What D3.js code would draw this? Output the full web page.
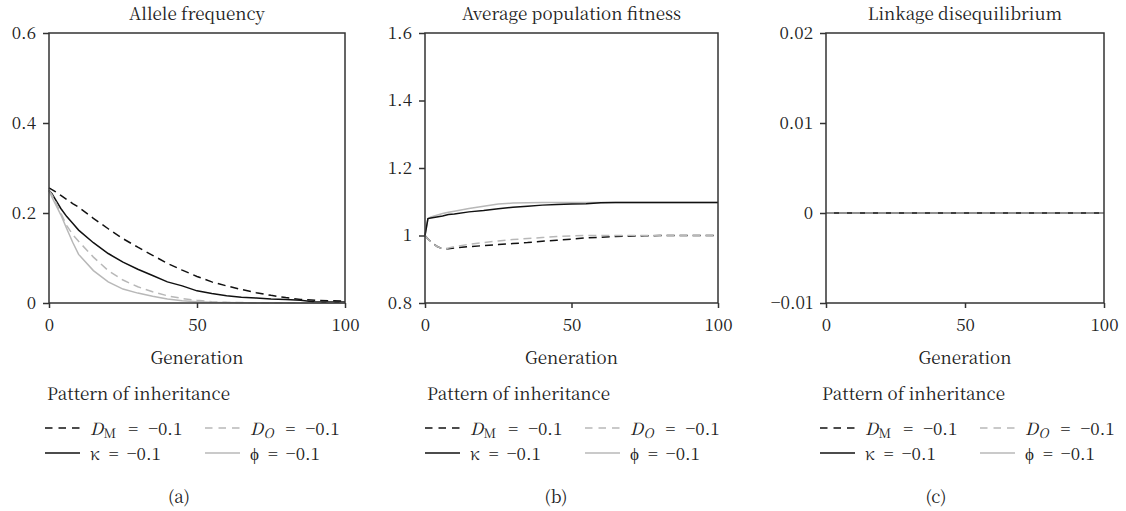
<!DOCTYPE html>
<html>
<head>
<meta charset="utf-8">
<script src="https://cdn.jsdelivr.net/npm/d3@7"></script>
<style>
  body { margin: 0; background: #fff; }
</style>
</head>
<body>
<svg id="chart" width="1126" height="511"></svg>
<script>
// generations sampled for every series
const generations = [0, 1, 2, 4, 6, 8, 10, 15, 20, 25, 30, 35, 40, 45, 50, 55, 60, 65, 70, 75, 80, 85, 90, 95, 100];

// (a) allele frequency
const alleleDM    = [0.256, 0.252, 0.248, 0.239, 0.230, 0.221, 0.213, 0.188, 0.165, 0.143, 0.124, 0.106, 0.088, 0.073, 0.059, 0.047, 0.038, 0.030, 0.023, 0.017, 0.012, 0.008, 0.006, 0.005, 0.004];
const alleleDO    = [0.250, 0.240, 0.228, 0.200, 0.172, 0.152, 0.137, 0.102, 0.072, 0.051, 0.036, 0.025, 0.016, 0.010, 0.006, 0.003, 0.0015, 0.001, 0.0005, 0, 0, 0, 0, 0, 0];
const alleleKappa = [0.250, 0.243, 0.232, 0.210, 0.192, 0.177, 0.162, 0.134, 0.110, 0.091, 0.075, 0.061, 0.047, 0.038, 0.027, 0.021, 0.016, 0.013, 0.011, 0.009, 0.008, 0.006, 0.002, 0.002, 0.002];
const allelePhi   = [0.250, 0.235, 0.222, 0.196, 0.165, 0.135, 0.108, 0.072, 0.047, 0.031, 0.022, 0.015, 0.009, 0.005, 0.003, 0.0015, 0.001, 0.0005, 0, 0, 0, 0, 0, 0, 0];

// (b) average population fitness
const fitnessDM    = [1.0, 0.990, 0.982, 0.968, 0.960, 0.961, 0.963, 0.967, 0.970, 0.973, 0.976, 0.979, 0.983, 0.986, 0.989, 0.993, 0.995, 0.997, 0.998, 0.999, 1.0, 1.0, 1.0, 1.0, 1.0];
const fitnessDO    = [1.0, 0.990, 0.982, 0.968, 0.960, 0.963, 0.967, 0.974, 0.979, 0.984, 0.988, 0.991, 0.994, 0.997, 0.999, 1.0, 1.0, 1.0, 1.0, 1.0, 1.0, 1.0, 1.0, 1.0, 1.0];
const fitnessKappa = [1.0, 1.050, 1.052, 1.055, 1.058, 1.062, 1.064, 1.070, 1.074, 1.079, 1.084, 1.087, 1.090, 1.092, 1.093, 1.094, 1.097, 1.098, 1.098, 1.098, 1.098, 1.098, 1.098, 1.098, 1.098];
const fitnessPhi   = [1.0, 1.050, 1.055, 1.060, 1.065, 1.069, 1.072, 1.080, 1.087, 1.093, 1.096, 1.097, 1.098, 1.098, 1.098, 1.098, 1.098, 1.098, 1.098, 1.098, 1.098, 1.098, 1.098, 1.098, 1.098];

// (c) linkage disequilibrium
const linkageDM    = generations.map(() => 0);
const linkageDO    = generations.map(() => 0);
const linkageKappa = generations.map(() => 0);
const linkagePhi   = generations.map(() => 0);

const xTicks = [0, 50, 100];
const titles = ["Allele frequency", "Average population fitness", "Linkage disequilibrium"];
const captions = ["(a)", "(b)", "(c)"];
const yTicksA = [0, 0.2, 0.4, 0.6];
const yLabelsA = ["0", "0.2", "0.4", "0.6"];
const yTicksB = [0.8, 1, 1.2, 1.4, 1.6];
const yLabelsB = ["0.8", "1", "1.2", "1.4", "1.6"];
const yTicksC = [-0.01, 0, 0.01, 0.02];
const yLabelsC = ["\u22120.01", "0", "0.01", "0.02"];

const FONT = "'Noto Serif CJK SC', 'Liberation Serif', serif";
const FS = "17px";
const BLACK = "#111", GRAY = "#b8b8b8";
const seriesStyle = [
  { key: "phi", color: GRAY, dash: null },
  { key: "kappa", color: BLACK, dash: null },
  { key: "DM", color: BLACK, dash: "8,5" },
  { key: "DO", color: GRAY, dash: "8,5" }
];

const panels = [
  { left: 49, right: 345, yDomain: [0, 0.6], yTicks: yTicksA, yLabels: yLabelsA,
    series: { DM: alleleDM, DO: alleleDO, kappa: alleleKappa, phi: allelePhi },
    legendX: 45, captionX: 179 },
  { left: 425, right: 718, yDomain: [0.8, 1.6], yTicks: yTicksB, yLabels: yLabelsB,
    series: { DM: fitnessDM, DO: fitnessDO, kappa: fitnessKappa, phi: fitnessPhi },
    legendX: 425, captionX: 556 },
  { left: 826, right: 1104, yDomain: [-0.01, 0.02], yTicks: yTicksC, yLabels: yLabelsC,
    series: { DM: linkageDM, DO: linkageDO, kappa: linkageKappa, phi: linkagePhi },
    legendX: 820, captionX: 936 }
];

const plotTop = 33, plotBottom = 303;
const svg = d3.select("#chart").style("font-family", FONT);

function label(g, x, y, txt, anchor) {
  return g.append("text")
    .attr("x", x).attr("y", y)
    .attr("text-anchor", anchor || "start")
    .attr("fill", "#222")
    .style("font-family", FONT).style("font-size", FS)
    .text(txt);
}

panels.forEach((p, i) => {
  const x = d3.scaleLinear().domain([0, 100]).range([p.left, p.right]);
  const y = d3.scaleLinear().domain(p.yDomain).range([plotBottom, plotTop]);
  const g = svg.append("g");

  label(g, (p.left + p.right) / 2, 20, titles[i], "middle");

  // lines
  const line = d3.line().x((d, j) => x(generations[j])).y(d => y(d));
  seriesStyle.forEach(s => {
    g.append("path")
      .datum(p.series[s.key])
      .attr("d", line)
      .attr("fill", "none")
      .attr("stroke", s.color)
      .attr("stroke-width", 1.5)
      .attr("stroke-dasharray", s.dash);
  });

  // frame
  g.append("rect")
    .attr("x", p.left).attr("y", plotTop)
    .attr("width", p.right - p.left).attr("height", plotBottom - plotTop)
    .attr("fill", "none").attr("stroke", "#333").attr("stroke-width", 1.5);

  // axes
  const yAxis = g.append("g")
    .attr("transform", `translate(${p.left},0)`)
    .call(d3.axisLeft(y).tickValues(p.yTicks).tickSize(6).tickPadding(7)
      .tickFormat((d, k) => p.yLabels[k]));
  const xAxis = g.append("g")
    .attr("transform", `translate(0,${plotBottom})`)
    .call(d3.axisBottom(x).tickValues(xTicks).tickSize(5).tickPadding(11));
  [xAxis, yAxis].forEach(a => {
    a.attr("font-family", null).attr("font-size", null);
    a.select(".domain").remove();
    a.selectAll("line").attr("stroke", "#333").attr("stroke-width", 1.5);
    a.selectAll("text").attr("fill", "#222")
      .style("font-family", FONT).style("font-size", FS);
  });

  label(g, (p.left + p.right) / 2, 364, "Generation", "middle");

  // legend
  const lx = p.legendX;
  label(g, lx + 2, 400, "Pattern of inheritance");

  const entries = [
    { color: BLACK, dash: "7.5,6", row: 0, col: 0, sym: "D", sub: "M", subItalic: false },
    { color: GRAY, dash: "7.5,6", row: 0, col: 1, sym: "D", sub: "O", subItalic: true },
    { color: BLACK, dash: null, row: 1, col: 0, sym: "\u03ba", sub: null },
    { color: GRAY, dash: null, row: 1, col: 1, sym: "\u03d5", sub: null }
  ];
  entries.forEach(e => {
    const ex = lx + e.col * 160;
    const ey = 435 + e.row * 25;
    g.append("line")
      .attr("x1", ex).attr("x2", ex + 35)
      .attr("y1", ey - 7).attr("y2", ey - 7)
      .attr("stroke", e.color).attr("stroke-width", 1.5)
      .attr("stroke-dasharray", e.dash);
    const t = label(g, ex + 45, ey, null);
    t.append("tspan").style("font-style", e.sym === "D" ? "italic" : "normal").text(e.sym);
    if (e.sub) {
      t.append("tspan").attr("dy", 3).attr("dx", 0.5).style("font-size", "13px")
        .style("font-style", e.subItalic ? "italic" : "normal").text(e.sub);
      t.append("tspan").attr("dy", -3).attr("dx", 12).text("=");
      t.append("tspan").attr("dx", 10).text("\u22120.1");
    } else {
      t.append("tspan").attr("dx", 9).text("=");
      t.append("tspan").attr("dx", 8).text("\u22120.1");
    }
  });

  label(g, p.captionX, 503, captions[i], "middle");
});
</script>
</body>
</html>
